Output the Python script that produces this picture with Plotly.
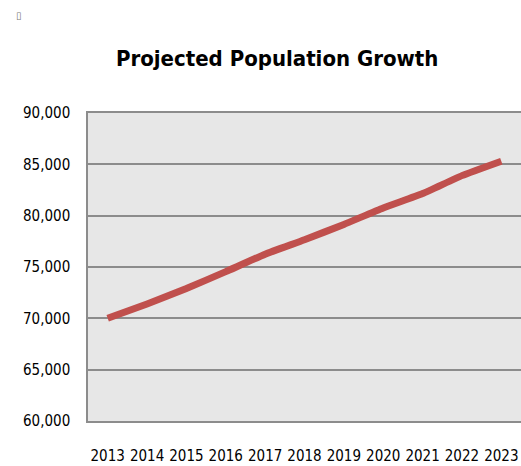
import plotly.graph_objects as go

years = [2013, 2014, 2015, 2016, 2017, 2018, 2019, 2020, 2021, 2022, 2023]
population = [70000, 71400, 72900, 74550, 76250, 77650, 79150, 80750, 82150, 83900, 85300]
y_ticks = [60000, 65000, 70000, 75000, 80000, 85000, 90000]
y_tick_labels = ["60,000", "65,000", "70,000", "75,000", "80,000", "85,000", "90,000"]

FONT = "DejaVu Sans Condensed, Liberation Sans Narrow, Arial Narrow, sans-serif"

fig = go.Figure()
fig.add_trace(go.Scatter(
    x=years, y=population, mode="lines",
    line=dict(color="#c0504d", width=7, shape="spline", smoothing=0.4),
    hoverinfo="x+y", showlegend=False,
))

fig.update_layout(
    width=521, height=466,
    margin=dict(l=88, r=0, t=113, b=45),
    paper_bgcolor="white",
    plot_bgcolor="#e7e7e7",
    title=dict(text="<b>Projected Population Growth</b>",
               font=dict(family=FONT, size=22, color="black"),
               x=0.532, xanchor="center", y=0.875, yanchor="middle"),
    xaxis=dict(
        range=[2012.5, 2023.5], tickmode="array", tickvals=years,
        ticktext=[str(y) for y in years],
        showgrid=False, zeroline=False,
        showline=True, mirror=True, linecolor="#8c8c8c", linewidth=1.5,
        ticks="", ticklabelstandoff=20,
        tickfont=dict(family=FONT, size=15, color="black"),
    ),
    yaxis=dict(
        range=[60000, 90000], tickmode="array", tickvals=y_ticks,
        ticktext=y_tick_labels,
        showgrid=True, gridcolor="#8c8c8c", gridwidth=1.5, zeroline=False,
        showline=True, mirror=False, linecolor="#8c8c8c", linewidth=1.5,
        ticks="", ticklabelstandoff=13,
        tickfont=dict(family=FONT, size=15, color="black"),
    ),
    annotations=[dict(
        text="▯", xref="paper", yref="paper",
        x=-69/433, y=1 + (113 - 16) / 308,
        xanchor="center", yanchor="middle", showarrow=False,
        font=dict(family="DejaVu Sans", size=10, color="#777777"),
    )],
)

fig.write_html("out.html")
